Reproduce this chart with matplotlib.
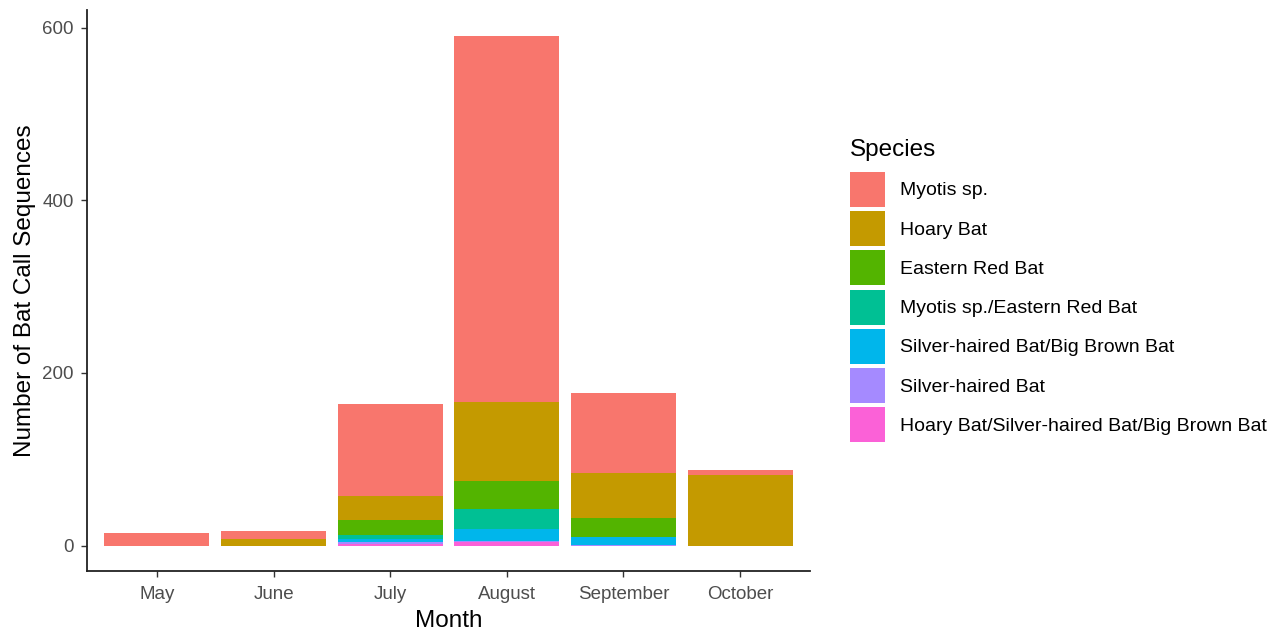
import matplotlib.pyplot as plt
import numpy as np
from matplotlib.patches import Patch

plt.rcParams["font.family"] = ["Liberation Sans", "DejaVu Sans"]

months = ["May", "June", "July", "August", "September", "October"]

# counts per species
myotis = [14, 10, 107, 425, 93, 5]
hoary = [0, 7, 27, 91, 52, 82]
eastern_red = [0, 0, 18, 33, 22, 0]
myotis_eastern_red = [0, 0, 5, 23, 0, 0]
silver_bigbrown = [0, 0, 3, 14, 9, 0]
silver = [0, 0, 2, 1, 1, 0]
hoary_silver_bigbrown = [0, 0, 2, 4, 0, 0]

species = [
    "Myotis sp.",
    "Hoary Bat",
    "Eastern Red Bat",
    "Myotis sp./Eastern Red Bat",
    "Silver-haired Bat/Big Brown Bat",
    "Silver-haired Bat",
    "Hoary Bat/Silver-haired Bat/Big Brown Bat",
]
series = [myotis, hoary, eastern_red, myotis_eastern_red,
          silver_bigbrown, silver, hoary_silver_bigbrown]
colors = ["#F8766D", "#C49A00", "#53B400", "#00C094",
          "#00B6EB", "#A58AFF", "#FB61D7"]

W, H = 1278, 633
fig = plt.figure(figsize=(W / 100, H / 100), dpi=100)
ax = fig.add_axes([87 / W, 1 - 571 / H, (810 - 87) / W, (571 - 10) / H])

x = np.arange(len(months))
bottom = np.zeros(len(months))
# ggplot stacks the first level on top, so draw from the last one up
for name, vals, col in reversed(list(zip(species, series, colors))):
    vals = np.array(vals, dtype=float)
    ax.bar(x, vals, width=0.9, bottom=bottom, color=col, linewidth=0)
    bottom += vals

total = bottom.max()
ax.set_xlim(-0.6, len(months) - 0.4)
ax.set_ylim(-0.05 * total, total * 1.05)
ax.set_xticks(x)
ax.set_xticklabels(months)
ax.set_yticks([0, 200, 400, 600])

for s in ["top", "right"]:
    ax.spines[s].set_visible(False)
for s in ["left", "bottom"]:
    ax.spines[s].set_linewidth(1.3)
    ax.spines[s].set_color("#222222")
ax.tick_params(axis="both", length=4.5, width=1.0, color="#333333",
               labelcolor="#4d4d4d", labelsize=13.5)
ax.tick_params(axis="x", pad=6)
ax.tick_params(axis="y", pad=5)

ax.set_xlabel("Month", fontsize=17.5)
ax.set_ylabel("Number of Bat Call Sequences", fontsize=17.5)
ax.xaxis.set_label_coords(0.5, (571 - 610) / 561)
ax.yaxis.set_label_coords((36 - 87) / 723, 0.5)

# legend title drawn separately so its gap to the keys matches
fig.text(850 / W, 1 - 150 / H, "Species", fontsize=17.5, ha="left", va="center")

handles = [Patch(facecolor=c, edgecolor="none") for c in colors]
leg = fig.legend(handles, species, loc="upper left",
                 bbox_to_anchor=(850 / W, 1 - 172 / H),
                 frameon=False, fontsize=14,
                 handlelength=1.8, handleheight=2.39,
                 labelspacing=0.22, handletextpad=0.77, borderpad=0.0,
                 borderaxespad=0.0)

fig.savefig("out.png", dpi=100)
